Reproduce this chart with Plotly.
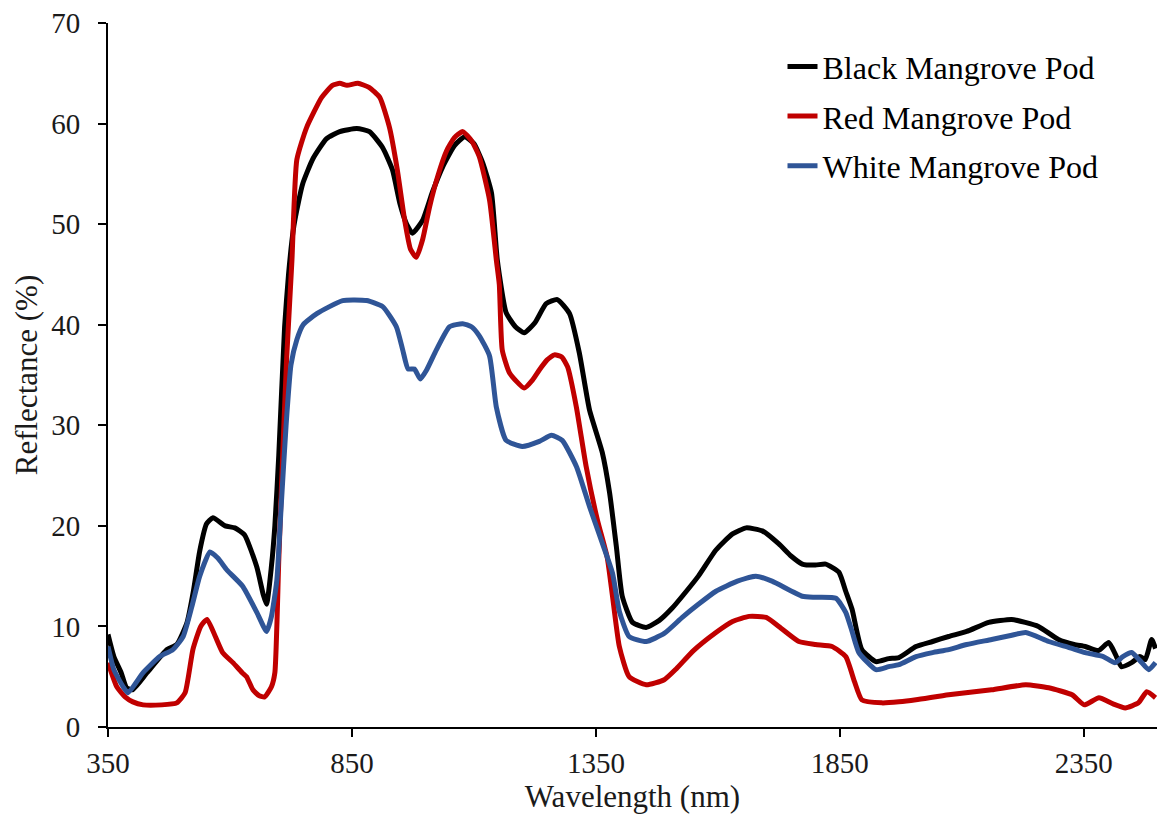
import plotly.graph_objects as go

# Reflectance spectra of mangrove propagules (wavelength in nm, reflectance in %)
wl_black = [350, 362, 377, 388, 400, 430, 471, 491, 512, 525, 538, 552, 565, 590, 610, 630,
            655, 668, 675, 685, 692, 700, 712, 720, 730, 737, 749, 770, 798, 825, 860, 886,
            913, 933, 948, 962, 974, 995, 1015, 1036, 1060, 1081, 1100, 1118, 1136, 1148,
            1166, 1185, 1203, 1225, 1248, 1271, 1296, 1316, 1337, 1363, 1378, 1392, 1404,
            1425, 1453, 1480, 1506, 1527, 1560, 1596, 1630, 1658, 1691, 1725, 1750, 1773,
            1800, 1821, 1848, 1862, 1875, 1895, 1924, 1950, 1971, 2006, 2040, 2073, 2110,
            2155, 2202, 2230, 2257, 2298, 2330, 2353, 2380, 2401, 2415, 2427, 2448, 2465,
            2476, 2489, 2497]
black_pod = [9.2, 7.0, 5.4, 3.9, 3.7, 5.4, 7.7, 8.2, 10.4, 13.5, 17.5, 20.2, 20.8, 20.0, 19.8, 19.1,
             15.9, 13.2, 12.2, 16.0, 20.0, 27.0, 39.8, 45.0, 49.5, 51.4, 54.0, 56.5, 58.5, 59.2, 59.5, 59.2,
             57.6, 55.4, 52.1, 50.0, 49.1, 50.4, 53.2, 55.7, 57.8, 58.7, 58.0, 56.1, 53.1, 46.4,
             41.2, 39.8, 39.2, 40.2, 42.1, 42.5, 41.1, 37.2, 31.5, 27.3, 23.3, 17.9, 13.0,
             10.4, 9.9, 10.6, 11.8, 13.0, 15.0, 17.6, 19.2, 19.8, 19.5, 18.2, 17.0, 16.2,
             16.1, 16.2, 15.4, 13.5, 11.7, 7.7, 6.5, 6.8, 6.9, 8.0, 8.5, 9.0, 9.5,
             10.4, 10.7, 10.4, 10.0, 8.7, 8.2, 8.0, 7.6, 8.4, 7.2, 6.0, 6.4, 7.0,
             6.7, 8.7, 7.8]

wl_red = [350, 368, 385, 401, 422, 460, 491, 508, 524, 540, 553, 570, 585, 606, 625, 634,
          647, 660, 671, 685, 692, 700, 708, 716, 727, 737, 757, 788, 810, 825, 840, 862,
          885, 907, 927, 943, 958, 970, 982, 995, 1009, 1026, 1044, 1060, 1077, 1095, 1111,
          1132, 1146, 1152, 1158, 1173, 1203, 1220, 1234, 1250, 1265, 1280, 1292, 1310,
          1330, 1353, 1373, 1384, 1398, 1418, 1453, 1490, 1515, 1550, 1596, 1630, 1664,
          1699, 1730, 1766, 1800, 1834, 1862, 1880, 1895, 1936, 1971, 2006, 2073, 2161,
          2231, 2278, 2326, 2351, 2381, 2410, 2435, 2462, 2479, 2497]
red_pod = [6.4, 4.0, 3.0, 2.5, 2.2, 2.2, 2.4, 3.4, 7.7, 10.0, 10.7, 9.0, 7.4, 6.4, 5.4, 5.0,
           3.7, 3.1, 3.0, 4.0, 5.4, 16.6, 27.0, 36.5, 46.4, 56.4, 59.6, 62.6, 63.8, 64.0, 63.8, 64.0,
           63.6, 62.6, 59.6, 55.4, 50.4, 47.5, 46.7, 48.5, 51.7, 54.8, 57.3, 58.6, 59.2, 58.3, 56.7,
           52.4, 46.4, 44.0, 37.5, 35.2, 33.7, 34.5, 35.5, 36.5, 37.0, 36.8, 35.8, 31.8,
           25.9, 20.6, 16.9, 13.0, 8.0, 5.0, 4.2, 4.7, 5.8, 7.6, 9.4, 10.5, 11.0,
           10.9, 9.8, 8.5, 8.2, 8.0, 7.0, 4.5, 2.7, 2.4, 2.5, 2.7, 3.2, 3.7,
           4.2, 3.9, 3.2, 2.2, 2.9, 2.3, 1.9, 2.4, 3.5, 2.9]

wl_white = [350, 362, 381, 391, 422, 456, 483, 504, 522, 538, 559, 575, 594, 626, 655, 675,
            685, 696, 705, 715, 725, 737, 750, 778, 831, 880, 913, 941, 954, 965, 978, 990,
            1003, 1023, 1050, 1077, 1095, 1111, 1132, 1146, 1166, 1199, 1234, 1259, 1281,
            1310, 1337, 1363, 1384, 1398, 1418, 1453, 1490, 1527, 1560, 1596, 1640, 1678,
            1711, 1773, 1800, 1842, 1862, 1875, 1889, 1924, 1950, 1971, 2006, 2040, 2073,
            2110, 2161, 2200, 2231, 2278, 2320, 2353, 2390, 2414, 2430, 2448, 2465, 2483, 2497]
white_pod = [8.0, 5.7, 4.0, 3.4, 5.4, 7.0, 7.7, 9.0, 12.0, 15.0, 17.4, 16.8, 15.6, 14.0, 11.4, 9.5,
             11.0, 14.6, 22.0, 30.0, 36.0, 38.5, 40.0, 41.1, 42.4, 42.4, 41.8, 39.8, 37.5, 35.6, 35.6, 34.6,
             35.5, 37.5, 39.8, 40.1, 39.8, 38.9, 36.9, 31.8, 28.5, 27.9, 28.4, 29.0, 28.5,
             25.9, 21.9, 18.3, 15.3, 11.5, 9.0, 8.5, 9.3, 10.9, 12.2, 13.5, 14.5, 15.0,
             14.5, 13.0, 12.9, 12.8, 11.4, 9.5, 7.4, 5.7, 6.0, 6.2, 7.0, 7.4, 7.7,
             8.2, 8.7, 9.1, 9.4, 8.5, 7.9, 7.4, 7.0, 6.4, 7.0, 7.4, 6.6, 5.7, 6.4]

series = [
    ("Black Mangrove Pod", wl_black, black_pod, "#000000"),
    ("Red Mangrove Pod", wl_red, red_pod, "#C00000"),
    ("White Mangrove Pod", wl_white, white_pod, "#2F5597"),
]

x_ticks = [350, 850, 1350, 1850, 2350]
y_ticks = [0, 10, 20, 30, 40, 50, 60, 70]

FONT = "Liberation Serif, Times New Roman, serif"

fig = go.Figure()
for name, wl, refl, color in series:
    fig.add_trace(go.Scatter(
        x=wl, y=refl, name=name, mode="lines", legendgroup=name,
        line=dict(color=color, width=5, shape="spline", smoothing=0.5),
    ))

fig.update_layout(
    width=1170, height=828,
    margin=dict(l=108, r=13, t=23, b=101, autoexpand=False),
    paper_bgcolor="white", plot_bgcolor="white",
    font=dict(family=FONT, size=29, color="#1a1a1a"),
    legend=dict(
        x=0.643, y=0.977, xanchor="left", yanchor="top",
        bgcolor="rgba(0,0,0,0)", tracegroupgap=5,
        font=dict(family=FONT, size=32, color="black"),
    ),
    xaxis=dict(
        range=[350, 2500], tickvals=x_ticks, ticktext=[str(v) for v in x_ticks],
        showline=True, linecolor="black", linewidth=2, mirror=False,
        ticks="outside", ticklen=8, tickwidth=2, tickcolor="black",
        showgrid=False, zeroline=False, ticklabelstandoff=1, automargin=False,
        title=dict(text="Wavelength (nm)", standoff=8, font=dict(size=31)),
    ),
    yaxis=dict(
        range=[0, 70], tickvals=y_ticks,
        showline=True, linecolor="black", linewidth=2,
        ticks="outside", ticklen=8, tickwidth=2, tickcolor="black",
        showgrid=False, zeroline=False, ticklabelstandoff=12, automargin=False,
        title=dict(text="Reflectance (%)", standoff=4, font=dict(size=31)),
    ),
)

fig.write_html("out.html")
